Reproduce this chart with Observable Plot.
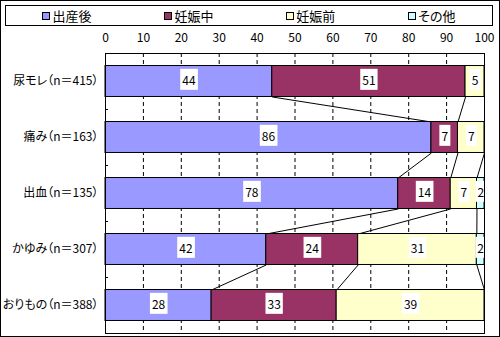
<!DOCTYPE html>
<html><head><meta charset="utf-8">
<script src="https://cdn.jsdelivr.net/npm/d3@7"></script>
<script src="https://cdn.jsdelivr.net/npm/@observablehq/plot@0.6"></script>
<style>
body{margin:0;background:#fff;}
#wrap{position:relative;width:500px;height:337px;font-family:"Noto Sans CJK JP",sans-serif;font-feature-settings:"palt";}
#border{position:absolute;left:0;top:0;width:498px;height:335px;border:1px solid #000;pointer-events:none;}
#legend{position:absolute;left:5px;top:5px;width:486px;height:19px;border:1px solid #000;display:flex;justify-content:space-around;align-items:center;font-size:13px;background:#fff;}
#legend span.item{display:flex;align-items:center;}
.sw{display:inline-block;width:6px;height:6px;border:1px solid #000;margin-right:2px;}
</style></head><body><div id="wrap"></div>
<script>
const categories = ["尿モレ（n＝415）","痛み（n＝163）","出血（n＝135）","かゆみ（n＝307）","おりもの（n＝388）"];
const series = ["出産後","妊娠中","妊娠前","その他"];
const colors = ["#9999FF","#993366","#FFFFCC","#CCFFFF"];
const after  = [44, 86, 78, 42, 28];
const during = [51, 7, 14, 24, 33];
const before = [5, 7, 7, 31, 39];
const other  = [0, 0, 2, 2, 0];
const xTicks = [0,10,20,30,40,50,60,70,80,90,100];

const half = 0.2765; // bar half-thickness in band units
const rows = [];
const cums = [];
categories.forEach((c,i)=>{
  const vals=[after[i],during[i],before[i],other[i]];
  const tot=d3.sum(vals);
  let cum=0; const cc=[];
  vals.forEach((v,k)=>{
    const x1=cum/tot*100; cum+=v; const x2=cum/tot*100;
    cc.push(x2);
    rows.push({cat:c,i,series:series[k],k,v,x1,x2});
  });
  cums.push(cc);
});
const links=[];
for(let i=0;i<categories.length-1;i++){
  for(let k=0;k<3;k++){
    links.push({xa:cums[i][k], ya:i+half, xb:cums[i+1][k], yb:i+1-half});
  }
}
const seps = categories.slice(1).map((_,i)=>i+0.5);

const svg = Plot.plot({
  width:500, height:337,
  marginTop:53, marginBottom:4, marginLeft:105, marginRight:16,
  style:{fontFamily:"'Noto Sans CJK JP', sans-serif", fontSize:"12px", background:"white", color:"black"},
  x:{domain:[0,100]},
  y:{domain:[-0.5,categories.length-0.5], reverse:true},
  color:{domain:series, range:colors},
  marks:[
    Plot.ruleX(xTicks.filter(t=>t>0&&t<100),{stroke:"black",strokeDasharray:"4,3",strokeOpacity:1}),
    Plot.ruleY(seps,{x1:0,x2:0.8,stroke:"black"}),
    Plot.link(links,{x1:"xa",y1:"ya",x2:"xb",y2:"yb",stroke:"black",strokeWidth:1}),
    Plot.rect(rows.filter(d=>d.v>0),{x1:"x1",x2:"x2",y1:d=>d.i-half,y2:d=>d.i+half,fill:"series",stroke:"black",strokeWidth:1}),
    Plot.text(rows.filter(d=>d.v>0),{x:d=>(d.x1+d.x2)/2,y:"i",text:d=>String(d.v),fill:"black",fontSize:12,className:"vlab"}),
    Plot.frame({stroke:"black"}),
    Plot.axisX({anchor:"top",ticks:xTicks,tickSize:0,tickPadding:12,fontSize:12,label:null}),
    Plot.axisY({ticks:categories.map((_,i)=>i),tickFormat:i=>categories[i],tickSize:0,tickPadding:7,fontSize:12,label:null})
  ]
});
const wrap=document.getElementById("wrap");
wrap.appendChild(svg);
// white boxes behind value labels
const ns="http://www.w3.org/2000/svg";
svg.querySelectorAll(".vlab text").forEach(t=>{
  const b=t.getBBox();
  const r=document.createElementNS(ns,"rect");
  r.setAttribute("x",b.x-2); r.setAttribute("y",b.y+b.height/2-11);
  r.setAttribute("width",b.width+4); r.setAttribute("height",21);
  r.setAttribute("fill","white");
  if(t.getAttribute("transform")) r.setAttribute("transform",t.getAttribute("transform"));
  t.parentNode.insertBefore(r,t);
});
const leg=document.createElement("div"); leg.id="legend";
series.forEach((s,k)=>{
  const it=document.createElement("span"); it.className="item";
  const sw=document.createElement("span"); sw.className="sw"; sw.style.background=colors[k];
  it.appendChild(sw); it.appendChild(document.createTextNode(s));
  leg.appendChild(it);
});
wrap.appendChild(leg);
const bd=document.createElement("div"); bd.id="border"; wrap.appendChild(bd);
</script></body></html>
